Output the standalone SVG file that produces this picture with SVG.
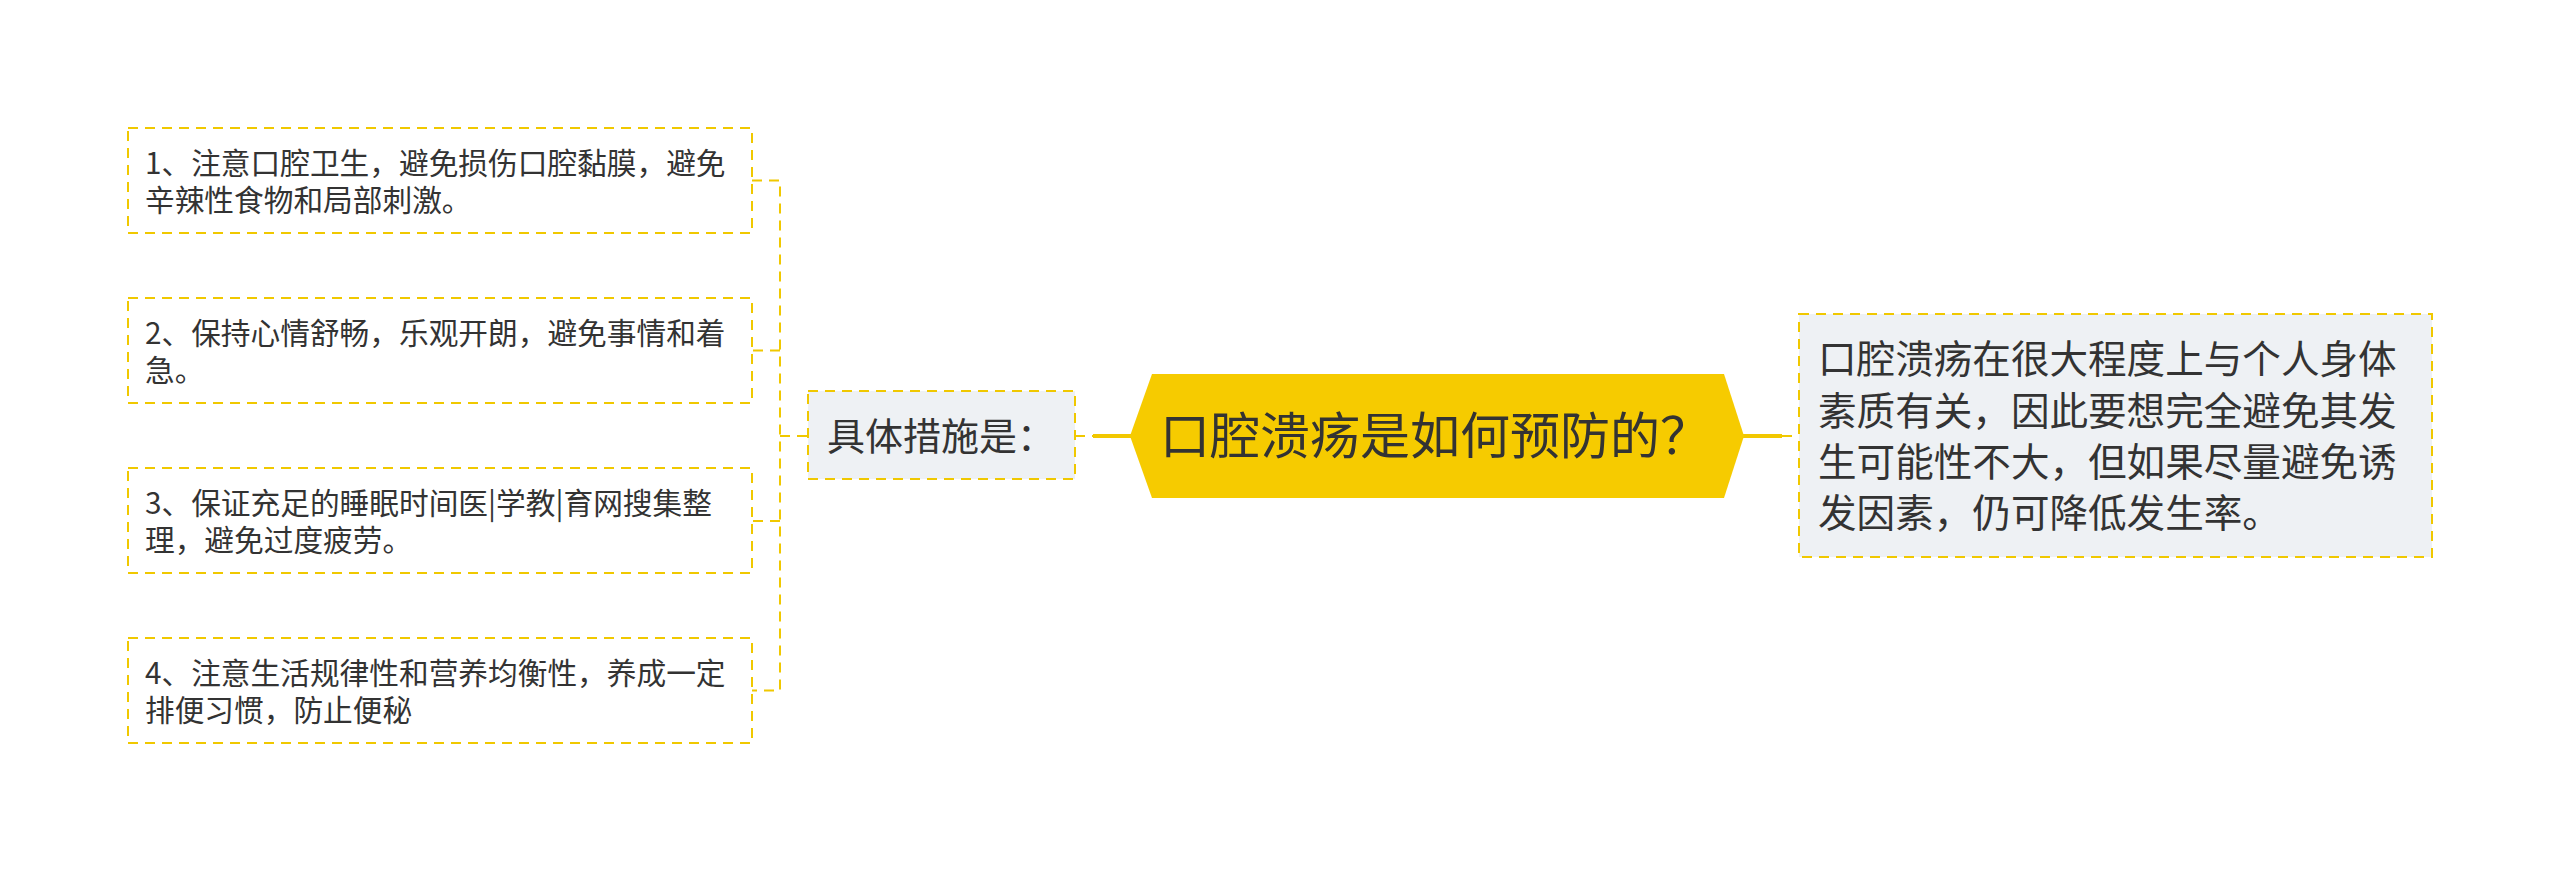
<svg xmlns="http://www.w3.org/2000/svg" width="2560" height="872" viewBox="0 0 2560 872">
<style>
.box{fill:#ffffff;stroke:#f0c800;stroke-width:2;stroke-dasharray:10 7}
.gbox{fill:#eef1f4;stroke:#f0c800;stroke-width:2;stroke-dasharray:10 7}
.dash{fill:none;stroke:#f0c800;stroke-width:2;stroke-dasharray:10 7}
.solid{fill:none;stroke:#f2c800;stroke-width:4}
text{font-family:"Noto Sans CJK SC","Microsoft YaHei",sans-serif;fill:#333333}
.t30{font-size:29.7px}
.t38{font-size:38px}
.t385{font-size:38.6px}
.t50{font-size:50px}
</style>
<rect width="2560" height="872" fill="#ffffff"/>
<g id="connectors">
<path class="dash" d="M752,180.5 H780 V690.5 H752 M780,350.5 H752 M780,521 H752 M780,436 H808"/>
<path class="dash" d="M1075,436 H1093"/>
<path class="solid" d="M1093,436 H1131"/>
<path class="solid" d="M1743,436 H1782"/>
<path class="dash" d="M1782,436 H1799"/>
</g>
<g id="node-item1">
<rect class="box" x="128" y="128" width="624" height="105"/>
<text class="t30" x="145" y="173.5">1、注意口腔卫生，避免损伤口腔黏膜，避免<tspan x="145" dy="37">辛辣性食物和局部刺激。</tspan></text>
</g>
<g id="node-item2">
<rect class="box" x="128" y="298" width="624" height="105"/>
<text class="t30" x="145" y="343.5">2、保持心情舒畅，乐观开朗，避免事情和着<tspan x="145" dy="37">急。</tspan></text>
</g>
<g id="node-item3">
<rect class="box" x="128" y="468" width="624" height="105"/>
<text class="t30" x="145" y="513.5">3、保证充足的睡眠时间医|学教|育网搜集整<tspan x="145" dy="37">理，避免过度疲劳。</tspan></text>
</g>
<g id="node-item4">
<rect class="box" x="128" y="638" width="624" height="105"/>
<text class="t30" x="145" y="683.5">4、注意生活规律性和营养均衡性，养成一定<tspan x="145" dy="37">排便习惯，防止便秘</tspan></text>
</g>
<g id="node-measures">
<rect class="gbox" x="808" y="391" width="267" height="88"/>
<text class="t38" x="827" y="450">具体措施是：</text>
</g>
<g id="node-root">
<polygon points="1130,436 1152,374 1724,374 1744,436 1724,498 1152,498" fill="#f6cb00"/>
<text class="t50" x="1160" y="454">口腔溃疡是如何预防的？</text>
</g>
<g id="node-answer">
<rect class="gbox" x="1799" y="314" width="633" height="243"/>
<text class="t385" x="1818" y="373">口腔溃疡在很大程度上与个人身体<tspan x="1818" dy="52">素质有关，因此要想完全避免其发</tspan><tspan x="1818" dy="51">生可能性不大，但如果尽量避免诱</tspan><tspan x="1818" dy="51">发因素，仍可降低发生率。</tspan></text>
</g>
</svg>
